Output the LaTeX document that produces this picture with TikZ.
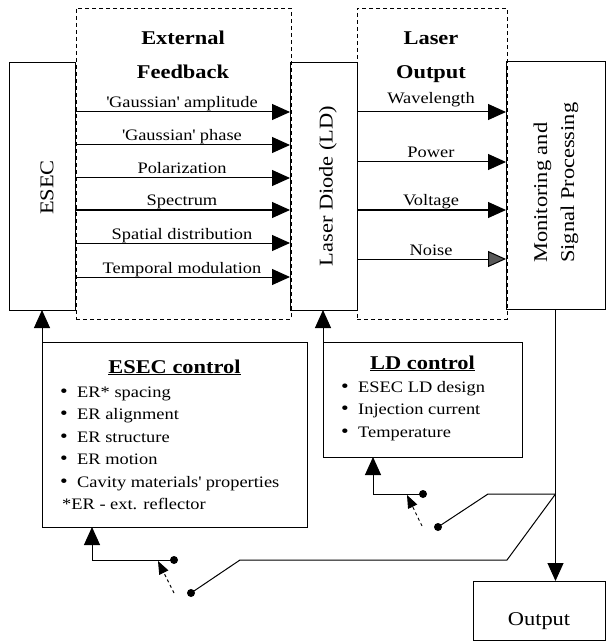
\documentclass[tikz,border=0pt]{standalone}
\usepackage{fontspec}
\setmainfont[FakeStretch=1.15]{Liberation Serif}
\usetikzlibrary{arrows.meta}
\begin{document}
\begin{tikzpicture}[x=1pt,y=-1pt]
\tikzset{
 box/.style={draw, line width=1pt, inner sep=0pt, outer sep=0pt},
 dbox/.style={draw, line width=0.9pt, dash pattern=on 4pt off 3pt, inner sep=0pt, outer sep=0pt},
 arr/.style={line width=1pt, -{Triangle[length=18pt,width=16pt]}},
 garr/.style={line width=1pt, -{Triangle[length=18pt,width=16pt,fill=black!65]}},
 lbl/.style={font=\fontsize{16}{19}\selectfont, anchor=base, inner sep=0pt},
 ttl/.style={font=\bfseries\fontsize{19.5}{23}\selectfont, anchor=base, inner sep=0pt},
 big/.style={font=\fontsize{19.5}{23}\selectfont, inner sep=0pt},
 item/.style={font=\fontsize{16}{19}\selectfont, anchor=base west, inner sep=0pt},
 bul/.style={font=\fontsize{19}{19}\selectfont, anchor=base west, inner sep=0pt},
 dot/.style={circle, fill=black, inner sep=0pt, minimum size=8pt},
 wire/.style={line width=1pt},
 darr/.style={line width=0.9pt, dash pattern=on 3pt off 3pt, -{Triangle[length=13pt,width=10pt]}},
}
\useasboundingbox (0,0) rectangle (606,644);

% dashed groups
\node[dbox, minimum width=215pt, minimum height=311pt] (fb) at (183.5,163.5) {};
\node[dbox, minimum width=150pt, minimum height=311pt] (lo) at (432,163.5) {};

% main boxes
\node[box, minimum width=65.5pt, minimum height=247pt] (esec) at (42.25,186.5) {};
\node[box, minimum width=67pt, minimum height=247pt] (ld) at (323.5,186.5) {};
\node[box, minimum width=99pt, minimum height=247pt] (mon) at (555.5,185.5) {};
\node[box, minimum width=265pt, minimum height=185pt] (ectl) at (174.5,434.5) {};
\node[box, minimum width=199pt, minimum height=115pt] (lctl) at (422.5,399.5) {};
\node[box, minimum width=132pt, minimum height=59pt] (outb) at (539,610.5) {};

% box texts
\node[big, rotate=90] (esect) at (47,187.5) {ESEC};
\node[big, rotate=90] (ldt) at (328,186) {Laser Diode (LD)};
\node[big, rotate=90, anchor=base west] (mont1) at (547,263) {Monitoring and};
\node[big, rotate=90, anchor=base west] (mont2) at (574,263) {Signal Processing};
\node[big, anchor=base] (outt) at (539,625) {Output};

% titles
\node[ttl] (fbt1) at (183,45) {External};
\node[ttl] (fbt2) at (183,79) {Feedback};
\node[ttl] (lot1) at (431,45) {Laser};
\node[ttl] (lot2) at (431,79) {Output};

% external feedback arrows
\foreach \yy/\tt [count=\i] in {112/{\textquotesingle Gaussian\textquotesingle{} amplitude},
  145/{\textquotesingle Gaussian\textquotesingle{} phase},
  178/{Polarization}, 210/{Spectrum}, 243/{Spatial distribution}, 277/{Temporal modulation}} {
  \coordinate (r\i) at (0,\yy);
  \draw[arr] (esec.east |- r\i) -- (ld.west |- r\i);
  \node[lbl] (fl\i) at (182,\yy-4) {\tt};
}

% laser output arrows
\foreach \yy/\ly/\tt [count=\i] in {112/104/Wavelength, 162/158/Power, 210/206/Voltage} {
  \coordinate (q\i) at (0,\yy);
  \draw[arr] (ld.east |- q\i) -- (mon.west |- q\i);
  \node[lbl] (ol\i) at (431,\ly) {\tt};
}
\coordinate (q4) at (0,259);
\draw[garr] (ld.east |- q4) -- (mon.west |- q4);
\node[lbl] (ol4) at (431,255) {Noise};

% control box contents
\node[ttl] (ectlt) at (174.5,373) {\underline{ESEC control}};
\foreach \yy/\tt [count=\i] in {397/{ER* spacing}, 419.5/{ER alignment}, 442/{ER structure},
  464.5/{ER motion}, 487/{Cavity materials\textquotesingle{} properties}} {
  \node[bul] (eb\i) at (60,\yy) {\textbullet};
  \node[item] (ei\i) at (77,\yy) {\tt};
}
\node[item] (enote) at (62,509.5) {*ER - ext. reflector};

\node[ttl] (lctlt) at (422.5,369) {\underline{LD control}};
\foreach \yy/\tt [count=\i] in {392/{ESEC LD design}, 414.5/{Injection current}, 437/{Temperature}} {
  \node[bul] (lb\i) at (341,\yy) {\textbullet};
  \node[item] (li\i) at (358,\yy) {\tt};
}

% control arrows
\draw[arr] (ectl.north west) -- (ectl.north west |- esec.south);
\draw[arr] (lctl.north west) -- (lctl.north west |- ld.south);
\draw[arr] (mon.south) -- (mon.south |- outb.north);

% switches
\coordinate (j0) at (0,494);
\coordinate (j) at (mon.south |- j0);

\coordinate (s1) at (92,560);
\node[dot] (d1) at (174,560) {};
\node[dot] (d2) at (191,593) {};
\coordinate (k1) at (240,560);
\coordinate (k2) at (507,560);
\coordinate (t1) at (174,593);
\coordinate (h1) at (158,561);
\draw[arr] (s1) -- (s1 |- ectl.south);
\draw[wire] (s1) -- (d1.center);
\draw[darr] (t1) -- (h1);
\draw[wire] (d2.center) -- (k1) -- (k2) -- (j);

\coordinate (s2) at (373,494);
\node[dot] (d3) at (423,494) {};
\node[dot] (d4) at (438,527) {};
\coordinate (k3) at (488,494);
\coordinate (t2) at (422,526);
\coordinate (h2) at (407,495);
\draw[arr] (s2) -- (s2 |- lctl.south);
\draw[wire] (s2) -- (d3.center);
\draw[darr] (t2) -- (h2);
\draw[wire] (d4.center) -- (k3) -- (j);
\end{tikzpicture}
\end{document}
